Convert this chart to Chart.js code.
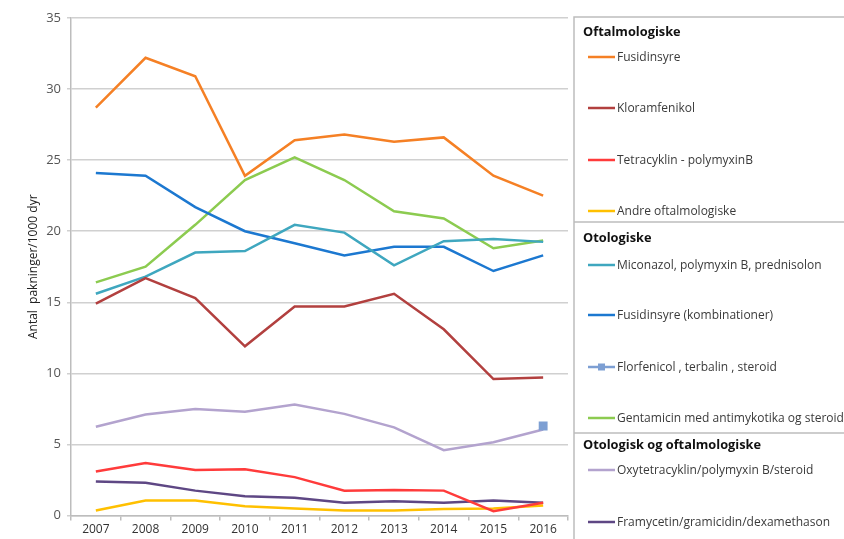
<!DOCTYPE html>
<html lang="da">
<head>
  <meta charset="UTF-8">
  <title>Antal pakninger/1000 dyr</title>
  <script src="https://cdn.jsdelivr.net/npm/chart.js"></script>
  <style>
    html, body { margin: 0; padding: 0; background: #fff; }
    #wrap { position: relative; width: 844px; height: 539px; }
  </style>
</head>
<body>
  <div id="wrap"><canvas id="grafik" width="844" height="539"></canvas></div>

  <script>
    // år
    const aar = ['2007', '2008', '2009', '2010', '2011', '2012', '2013', '2014', '2015', '2016'];

    // Oftalmologiske
    const fusidinsyre = [28.7, 32.2, 30.9, 23.9, 26.4, 26.8, 26.3, 26.6, 23.9, 22.5];
    const kloramfenikol = [14.9, 16.7, 15.3, 11.9, 14.7, 14.7, 15.6, 13.1, 9.6, 9.7];
    const tetracyklin = [3.1, 3.7, 3.2, 3.25, 2.7, 1.75, 1.8, 1.75, 0.3, 0.9];
    const andreOftal = [0.35, 1.05, 1.05, 0.65, 0.5, 0.35, 0.35, 0.45, 0.5, 0.7];

    // Otologiske
    const miconazol = [15.6, 16.8, 18.5, 18.6, 20.45, 19.9, 17.6, 19.3, 19.45, 19.25];
    const fusidinsyreKomb = [24.1, 23.9, 21.7, 20.0, 19.15, 18.3, 18.9, 18.9, 17.2, 18.3];
    const florfenicol = [null, null, null, null, null, null, null, null, null, 6.3];
    const gentamicin = [16.4, 17.5, 20.45, 23.6, 25.2, 23.6, 21.4, 20.9, 18.8, 19.35];

    // Otologisk og oftalmologiske
    const oxytetracyklin = [6.25, 7.1, 7.5, 7.3, 7.8, 7.15, 6.2, 4.6, 5.15, 6.05];
    const framycetin = [2.4, 2.3, 1.75, 1.35, 1.25, 0.9, 1.0, 0.9, 1.05, 0.9];

    const grupper = ['Oftalmologiske', 'Otologiske', 'Otologisk og oftalmologiske'];

    const serier = [
      { label: 'Fusidinsyre', data: fusidinsyre, farve: '#F58025', gruppe: 0 },
      { label: 'Kloramfenikol', data: kloramfenikol, farve: '#B2403F', gruppe: 0 },
      { label: 'Tetracyklin - polymyxinB', data: tetracyklin, farve: '#FF3B3B', gruppe: 0 },
      { label: 'Andre oftalmologiske', data: andreOftal, farve: '#FFC000', gruppe: 0 },
      { label: 'Miconazol, polymyxin B, prednisolon', data: miconazol, farve: '#3FA7BF', gruppe: 1 },
      { label: 'Fusidinsyre (kombinationer)', data: fusidinsyreKomb, farve: '#1C78D0', gruppe: 1 },
      { label: 'Florfenicol , terbalin , steroid', data: florfenicol, farve: '#7D9FD3', gruppe: 1, markor: true },
      { label: 'Gentamicin med antimykotika og steroid', data: gentamicin, farve: '#8CCB50', gruppe: 1 },
      { label: 'Oxytetracyklin/polymyxin B/steroid', data: oxytetracyklin, farve: '#B3A3CE', gruppe: 2 },
      { label: 'Framycetin/gramicidin/dexamethason', data: framycetin, farve: '#5E4784', gruppe: 2 }
    ];

    // legend tegnet på canvas med gruppeoverskrifter
    const gruppeLegend = {
      id: 'gruppeLegend',
      afterDraw(chart) {
        const c = chart.ctx;
        const boksX = 574, boksY = 17;
        const overskriftY = [32, 238, 445];
        const skilleY = [222, 433];
        const punktY = [57, 108, 160, 211, 265, 315, 367, 418, 470, 522];
        c.save();
        c.strokeStyle = '#BDBDBD';
        c.lineWidth = 1.5;
        c.beginPath();
        c.moveTo(844, boksY);
        c.lineTo(boksX, boksY);
        c.lineTo(boksX, 539);
        skilleY.forEach(y => { c.moveTo(boksX, y); c.lineTo(844, y); });
        c.stroke();

        c.fillStyle = '#111';
        c.textBaseline = 'middle';
        c.font = 'bold 12.8px "Open Sans"';
        grupper.forEach((g, i) => c.fillText(g, 583, overskriftY[i]));

        c.font = '12px "Open Sans"';
        chart.data.datasets.forEach((ds, i) => {
          const y = punktY[i];
          c.strokeStyle = ds.borderColor;
          c.lineWidth = 2.5;
          c.beginPath();
          c.moveTo(588, y);
          c.lineTo(615, y);
          c.stroke();
          if (serier[i].markor) {
            c.fillStyle = ds.borderColor;
            c.fillRect(598, y - 3.5, 7, 7);
          }
          c.fillStyle = '#3A3A3A';
          c.fillText(ds.label, 617, y + 1);
        });
        c.restore();
      }
    };

    const ctx = document.getElementById('grafik').getContext('2d');
    new Chart(ctx, {
      type: 'line',
      data: {
        labels: aar,
        datasets: serier.map(s => ({
          label: s.label,
          data: s.data,
          borderColor: s.farve,
          backgroundColor: s.farve,
          borderWidth: 2.5,
          tension: 0,
          pointRadius: s.markor ? 4.5 : 0,
          pointStyle: 'rect',
          spanGaps: false
        }))
      },
      options: {
        responsive: false,
        animation: false,
        layout: { padding: { left: 26, right: 276, top: 18, bottom: 0 } },
        plugins: {
          legend: { display: false },
          tooltip: { enabled: false }
        },
        scales: {
          x: {
            offset: true,
            grid: { display: true, offset: true, drawOnChartArea: false, drawTicks: true, tickLength: 5, color: '#BDBDBD', lineWidth: 1.5 },
            border: { color: '#BDBDBD', width: 1.5 },
            ticks: { color: '#333', font: { family: 'Open Sans', size: 12 }, padding: 2, maxRotation: 0 },
            afterFit: s => { s.height = 23.5; }
          },
          y: {
            min: 0,
            max: 35,
            ticks: { stepSize: 5, color: '#555', font: { family: 'Open Sans', size: 13 }, padding: 6 },
            grid: { color: '#D0D0D0', lineWidth: 1.5, tickLength: 4 },
            border: { color: '#BDBDBD', width: 1.5 },
            title: {
              display: true,
              text: 'Antal  pakninger/1000 dyr',
              color: '#222',
              font: { family: 'Open Sans', size: 12 },
              padding: { top: 0, bottom: 0 }
            },
            afterFit: s => { s.width = 45; }
          }
        }
      },
      plugins: [gruppeLegend]
    });
  </script>
</body>
</html>
